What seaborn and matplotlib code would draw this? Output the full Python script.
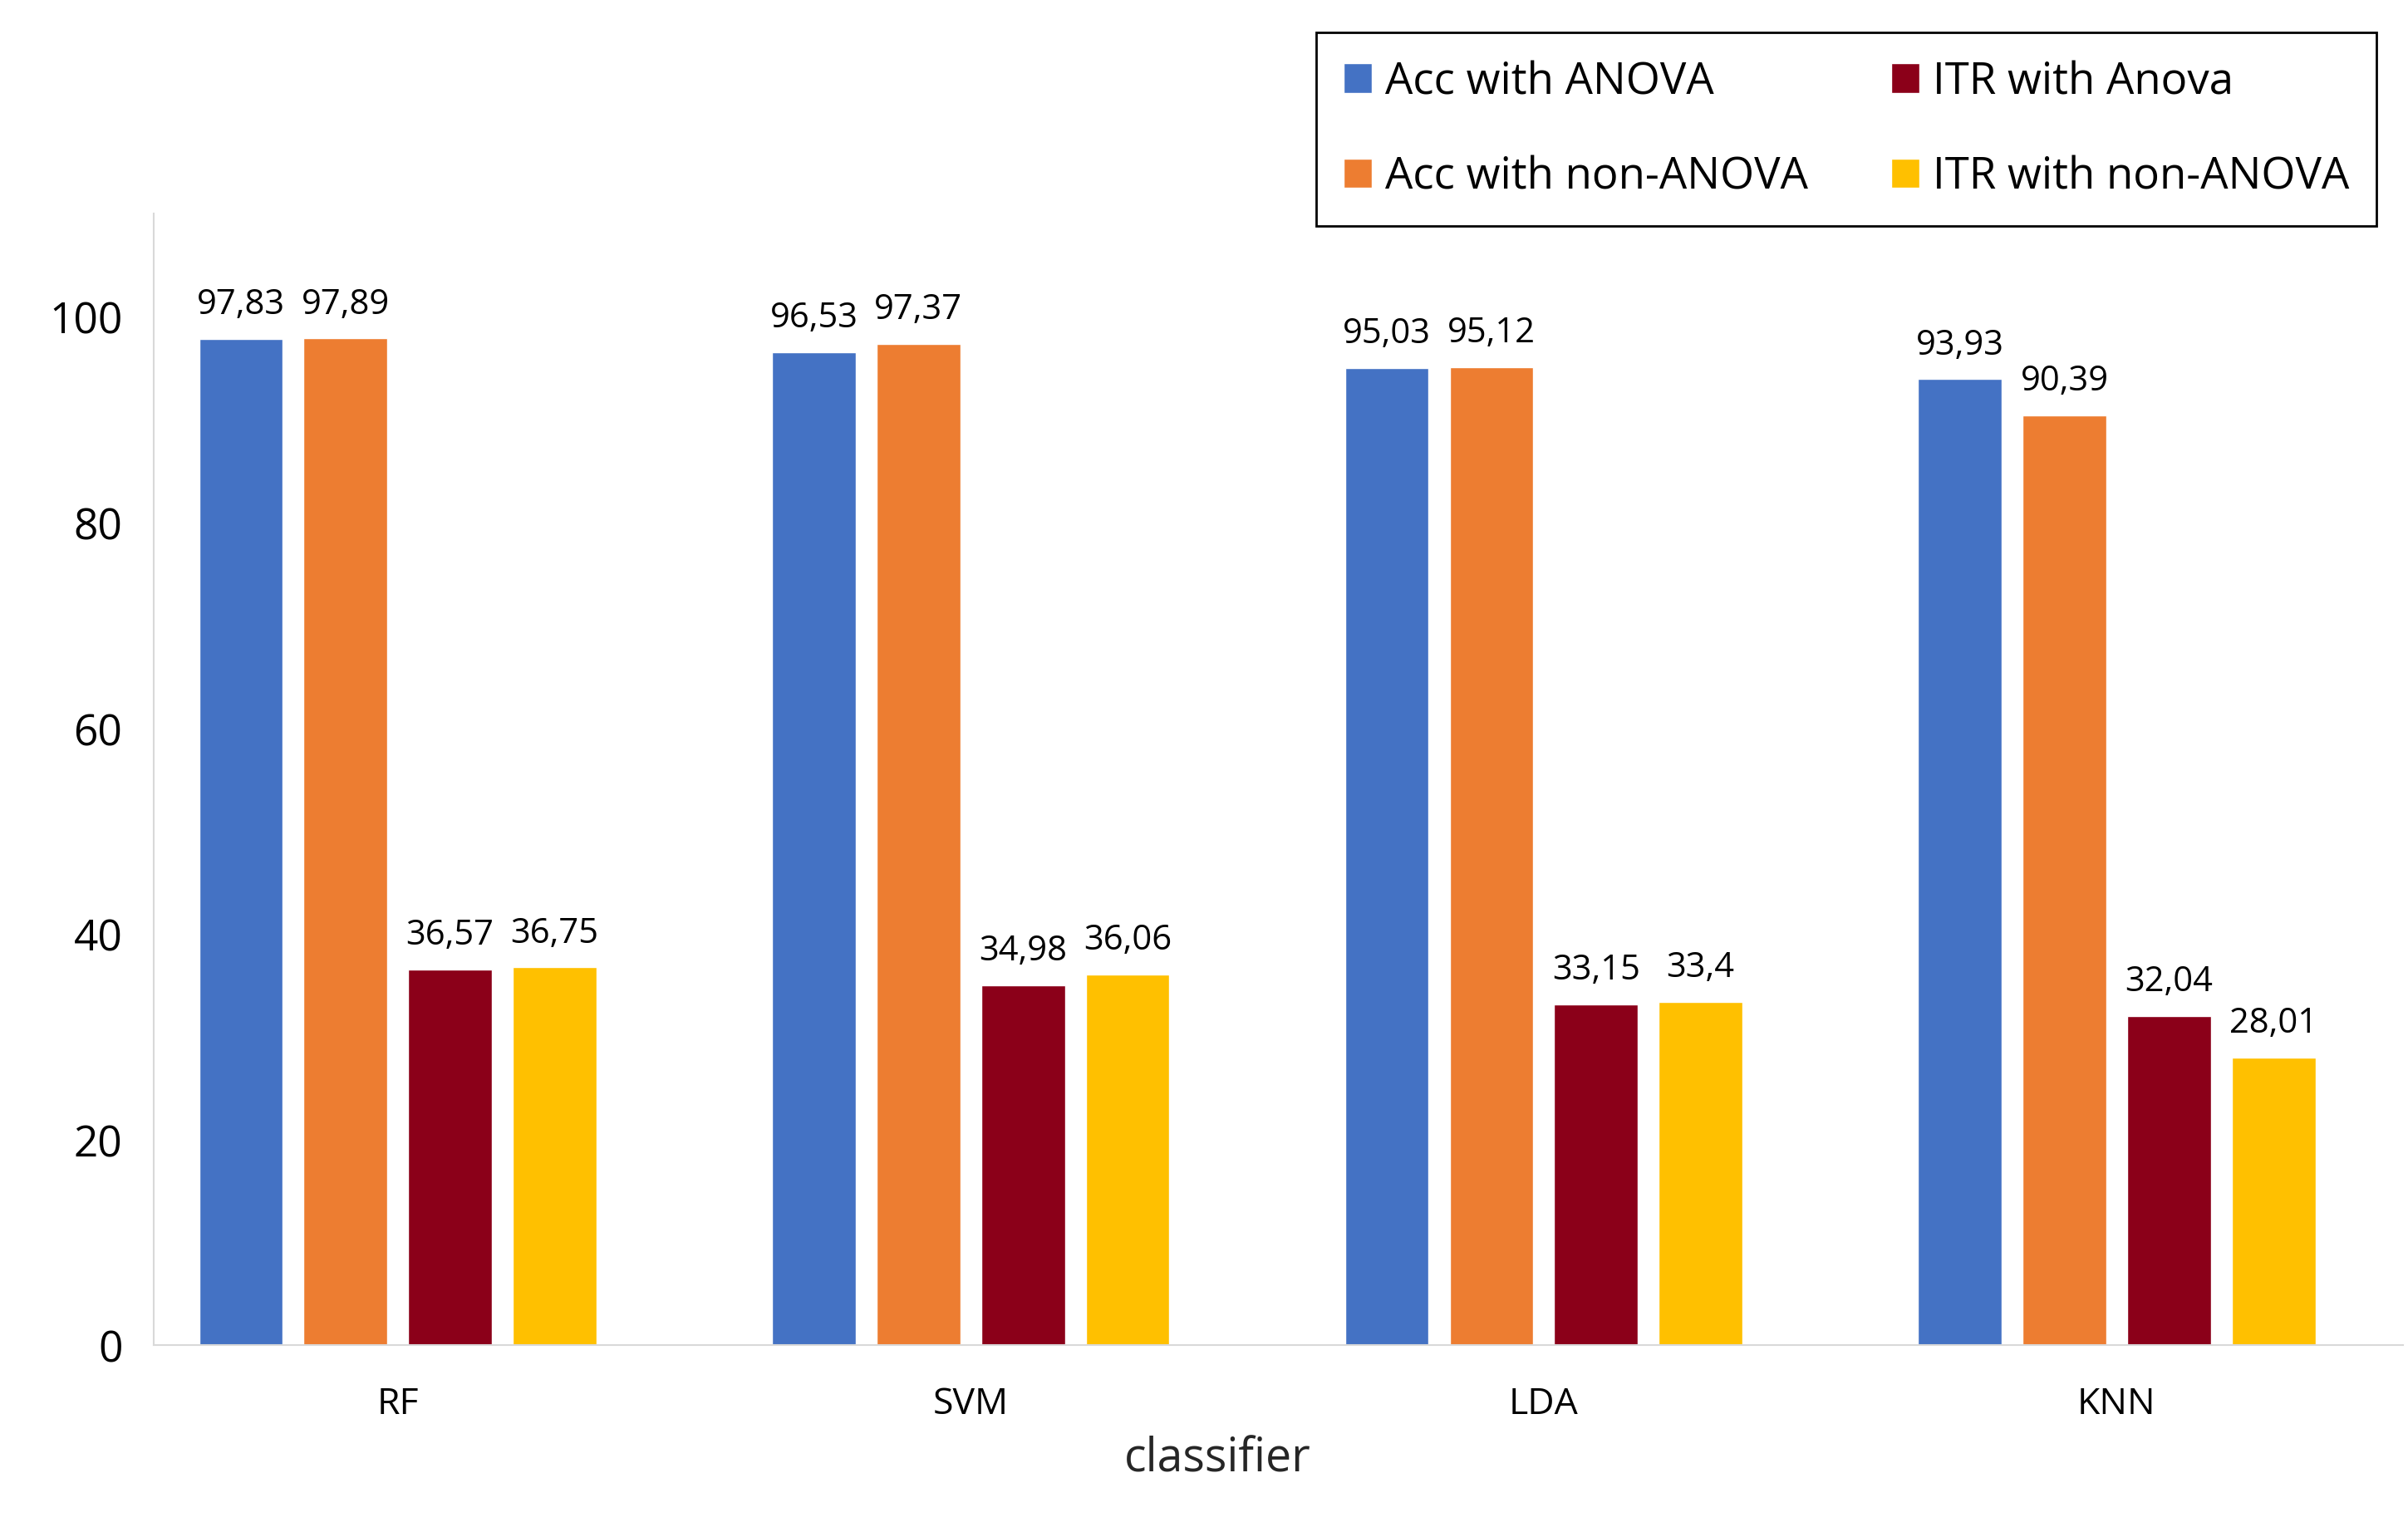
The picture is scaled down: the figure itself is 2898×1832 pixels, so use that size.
import numpy as np
import pandas as pd
import matplotlib
matplotlib.use("Agg")
import matplotlib.pyplot as plt
import seaborn as sns

classifiers = ["RF", "SVM", "LDA", "KNN"]
series = ["Acc with ANOVA", "Acc with non-ANOVA", "ITR with Anova", "ITR with non-ANOVA"]
acc_anova = [97.83, 96.53, 95.03, 93.93]
acc_non_anova = [97.89, 97.37, 95.12, 90.39]
itr_anova = [36.57, 34.98, 33.15, 32.04]
itr_non_anova = [36.75, 36.06, 33.4, 28.01]
colors = ["#4472C4", "#ED7D31", "#8B0019", "#FFC000"]
yticks = [0, 20, 40, 60, 80, 100]
x_title = "classifier"

values = [acc_anova, acc_non_anova, itr_anova, itr_non_anova]
rows = []
for s, vals in zip(series, values):
    for c, v in zip(classifiers, vals):
        rows.append({"classifier": c, "series": s, "value": v})
df = pd.DataFrame(rows)

sns.set_theme(style="white")
plt.rcParams["font.family"] = ["Open Sans", "DejaVu Sans"]
plt.rcParams["text.color"] = "black"
plt.rcParams["xtick.color"] = "black"
plt.rcParams["ytick.color"] = "black"

fig = plt.figure(figsize=(28.98, 18.33), dpi=100)
ax = fig.add_axes([0.0638, 0.116, 0.9342, 0.743])

sns.barplot(data=df, x="classifier", y="value", hue="series", order=classifiers,
            hue_order=series, palette=colors, width=0.73, gap=0.2, saturation=1,
            errorbar=None, ax=ax)

for cont, vals in zip(ax.containers, values):
    ax.bar_label(cont, labels=[f"{v:g}".replace(".", ",") for v in vals],
                 padding=15, fontsize=30, color="black")

ax.set_ylim(0, 110)
ax.set_xlim(-0.426, 3.5)
ax.set_yticks(yticks)
ax.tick_params(axis="y", length=0, pad=27, labelsize=37)
ax.tick_params(axis="x", which="major", length=0, pad=35, labelsize=32)
ax.set_xticks([0.5, 1.5, 2.5], minor=True)
ax.tick_params(axis="x", which="minor", length=11, width=1.5, color="#d9d9d9", direction="out")
ax.set_ylabel("")
ax.set_xlabel(x_title, fontsize=40)
ax.xaxis.set_label_coords(0.473, -0.1004)
ax.xaxis.label.set_va("center")

for side in ["top", "right"]:
    ax.spines[side].set_visible(False)
for side in ["left", "bottom"]:
    ax.spines[side].set_color("#d9d9d9")
    ax.spines[side].set_linewidth(1.5)

handles, labels = ax.get_legend_handles_labels()
ax.get_legend().remove()
leg = fig.legend(handles, labels, ncol=2, loc="upper left",
                 bbox_to_anchor=(0.5466, 0.978), frameon=True, fancybox=False,
                 fontsize=38, handlelength=0.65, handleheight=0.65,
                 handletextpad=0.3, columnspacing=1.9, labelspacing=1.15,
                 borderpad=0.62, borderaxespad=0)
leg.get_frame().set_edgecolor("black")
leg.get_frame().set_linewidth(2)
leg.get_frame().set_alpha(1)

fig.savefig("out.png", dpi=100)
